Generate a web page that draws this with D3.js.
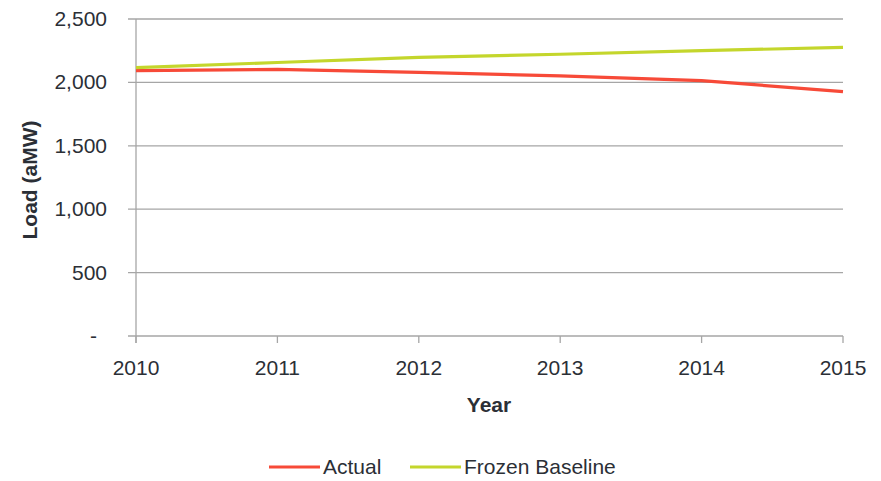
<!DOCTYPE html>
<html><head><meta charset="utf-8">
<script src="https://cdn.jsdelivr.net/npm/d3@7"></script>
<style>
body{margin:0;background:#fff;}
text{font-family:"Liberation Sans",Arial,sans-serif;fill:#2b2f36;}
</style></head>
<body><svg id="c" width="881" height="481"></svg>
<script>
const years = [2010, 2011, 2012, 2013, 2014, 2015];
const actual = [2093, 2102, 2079, 2051, 2014, 1928];
const frozenBaseline = [2117, 2157, 2198, 2222, 2250, 2277];
const yTicks = [0, 500, 1000, 1500, 2000, 2500];
const seriesNames = ["Actual", "Frozen Baseline"];
const colors = ["#f74a38", "#c4d62c"];

const svg = d3.select("#c");
const x = d3.scaleLinear().domain([2010, 2015]).range([136, 843]);
const y = d3.scaleLinear().domain([0, 2500]).range([336, 19]);

// gridlines
svg.append("g").selectAll("line").data(yTicks).join("line")
  .attr("x1", 128).attr("x2", 843)
  .attr("y1", d => y(d)).attr("y2", d => y(d))
  .attr("stroke", "#a6a6a6").attr("stroke-width", 1.3);

// y axis line
svg.append("line").attr("x1", 136).attr("x2", 136).attr("y1", y(2500)).attr("y2", 343)
  .attr("stroke", "#a6a6a6").attr("stroke-width", 1.3);

// x ticks
svg.append("g").selectAll("line").data(years).join("line")
  .attr("x1", d => x(d)).attr("x2", d => x(d)).attr("y1", 336).attr("y2", 343)
  .attr("stroke", "#a6a6a6").attr("stroke-width", 1.3);

// y labels
svg.append("g").selectAll("text").data(yTicks).join("text")
  .attr("x", d => d === 0 ? 97 : 107).attr("y", d => y(d) + 7).attr("text-anchor", "end")
  .attr("font-size", 21)
  .text(d => d === 0 ? "-" : d3.format(",")(d));

// x labels
svg.append("g").selectAll("text").data(years).join("text")
  .attr("x", d => x(d)).attr("y", 375).attr("text-anchor", "middle")
  .attr("font-size", 21).text(d => d);

// axis titles
svg.append("text").attr("transform", "translate(37,180) rotate(-90)")
  .attr("text-anchor", "middle").attr("font-size", 21).attr("font-weight", "bold")
  .text("Load (aMW)");
svg.append("text").attr("x", 489).attr("y", 412).attr("text-anchor", "middle")
  .attr("font-size", 21).attr("font-weight", "bold").text("Year");

// lines
const line = d3.line().x((d, i) => x(years[i])).y(d => y(d));
[actual, frozenBaseline].forEach((s, i) => {
  svg.append("path").datum(s).attr("d", line)
    .attr("fill", "none").attr("stroke", colors[i]).attr("stroke-width", 3.2)
    .attr("stroke-linejoin", "round");
});

// legend
const legX = [269, 410];
seriesNames.forEach((n, i) => {
  svg.append("line").attr("x1", legX[i]).attr("x2", legX[i] + 51)
    .attr("y1", 467).attr("y2", 467).attr("stroke", colors[i]).attr("stroke-width", 3);
  svg.append("text").attr("x", legX[i] + 54).attr("y", 474).attr("font-size", 21).text(n);
});
</script></body></html>
